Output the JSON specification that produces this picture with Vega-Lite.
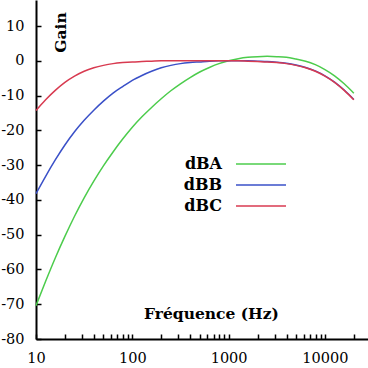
{
  "$schema": "https://vega.github.io/schema/vega-lite/v6.json",
  "width": 332,
  "height": 339,
  "autosize": {"type": "none"},
  "padding": {"left": 36, "top": 0, "right": 0, "bottom": 29},
  "config": {
    "view": {"stroke": null},
    "font": "DejaVu Serif",
    "axis": {
      "grid": false,
      "domainColor": "#000000",
      "domainWidth": 2,
      "tickColor": "#000000",
      "tickWidth": 1.5,
      "tickSize": -5,
      "labelPadding": 17,
      "labelFont": "DejaVu Serif",
      "labelFontSize": 14.5,
      "labelColor": "#000000",
      "titleFont": "DejaVu Serif",
      "titleFontSize": 15.5,
      "titleFontWeight": "bold",
      "titleColor": "#000000"
    }
  },
  "data": {
    "values": [
      {"f": 10, "s": "dBA", "g": -70.4}, {"f": 12.589, "s": "dBA", "g": -63.4}, {"f": 15.849, "s": "dBA", "g": -56.7}, {"f": 19.953, "s": "dBA", "g": -50.5},
      {"f": 25.119, "s": "dBA", "g": -44.7}, {"f": 31.623, "s": "dBA", "g": -39.4}, {"f": 39.811, "s": "dBA", "g": -34.6}, {"f": 50.119, "s": "dBA", "g": -30.2},
      {"f": 63.096, "s": "dBA", "g": -26.2}, {"f": 79.433, "s": "dBA", "g": -22.5}, {"f": 100, "s": "dBA", "g": -19.1}, {"f": 125.89, "s": "dBA", "g": -16.1},
      {"f": 158.49, "s": "dBA", "g": -13.4}, {"f": 199.53, "s": "dBA", "g": -10.9}, {"f": 251.19, "s": "dBA", "g": -8.6}, {"f": 316.23, "s": "dBA", "g": -6.6},
      {"f": 398.11, "s": "dBA", "g": -4.8}, {"f": 501.19, "s": "dBA", "g": -3.2}, {"f": 630.96, "s": "dBA", "g": -1.9}, {"f": 794.33, "s": "dBA", "g": -0.8},
      {"f": 1000, "s": "dBA", "g": 0}, {"f": 1258.9, "s": "dBA", "g": 0.6}, {"f": 1584.9, "s": "dBA", "g": 1.0}, {"f": 1995.3, "s": "dBA", "g": 1.2},
      {"f": 2511.9, "s": "dBA", "g": 1.3}, {"f": 3162.3, "s": "dBA", "g": 1.2}, {"f": 3981.1, "s": "dBA", "g": 1.0}, {"f": 5011.9, "s": "dBA", "g": 0.5},
      {"f": 6309.6, "s": "dBA", "g": -0.1}, {"f": 7943.3, "s": "dBA", "g": -1.1}, {"f": 10000, "s": "dBA", "g": -2.5}, {"f": 12589, "s": "dBA", "g": -4.3},
      {"f": 15849, "s": "dBA", "g": -6.6}, {"f": 19953, "s": "dBA", "g": -9.3},

      {"f": 10, "s": "dBB", "g": -38.2}, {"f": 12.589, "s": "dBB", "g": -33.2}, {"f": 15.849, "s": "dBB", "g": -28.5}, {"f": 19.953, "s": "dBB", "g": -24.2},
      {"f": 25.119, "s": "dBB", "g": -20.4}, {"f": 31.623, "s": "dBB", "g": -17.1}, {"f": 39.811, "s": "dBB", "g": -14.2}, {"f": 50.119, "s": "dBB", "g": -11.6},
      {"f": 63.096, "s": "dBB", "g": -9.3}, {"f": 79.433, "s": "dBB", "g": -7.4}, {"f": 100, "s": "dBB", "g": -5.6}, {"f": 125.89, "s": "dBB", "g": -4.2},
      {"f": 158.49, "s": "dBB", "g": -3.0}, {"f": 199.53, "s": "dBB", "g": -2.0}, {"f": 251.19, "s": "dBB", "g": -1.3}, {"f": 316.23, "s": "dBB", "g": -0.8},
      {"f": 398.11, "s": "dBB", "g": -0.5}, {"f": 501.19, "s": "dBB", "g": -0.3}, {"f": 630.96, "s": "dBB", "g": -0.1}, {"f": 794.33, "s": "dBB", "g": 0},
      {"f": 1000, "s": "dBB", "g": 0}, {"f": 1258.9, "s": "dBB", "g": 0}, {"f": 1584.9, "s": "dBB", "g": 0}, {"f": 1995.3, "s": "dBB", "g": -0.1},
      {"f": 2511.9, "s": "dBB", "g": -0.2}, {"f": 3162.3, "s": "dBB", "g": -0.4}, {"f": 3981.1, "s": "dBB", "g": -0.7}, {"f": 5011.9, "s": "dBB", "g": -1.2},
      {"f": 6309.6, "s": "dBB", "g": -1.9}, {"f": 7943.3, "s": "dBB", "g": -2.9}, {"f": 10000, "s": "dBB", "g": -4.3}, {"f": 12589, "s": "dBB", "g": -6.1},
      {"f": 15849, "s": "dBB", "g": -8.4}, {"f": 19953, "s": "dBB", "g": -11.1},

      {"f": 10, "s": "dBC", "g": -14.3}, {"f": 12.589, "s": "dBC", "g": -11.2}, {"f": 15.849, "s": "dBC", "g": -8.5}, {"f": 19.953, "s": "dBC", "g": -6.2},
      {"f": 25.119, "s": "dBC", "g": -4.4}, {"f": 31.623, "s": "dBC", "g": -3.0}, {"f": 39.811, "s": "dBC", "g": -2.0}, {"f": 50.119, "s": "dBC", "g": -1.3},
      {"f": 63.096, "s": "dBC", "g": -0.8}, {"f": 79.433, "s": "dBC", "g": -0.5}, {"f": 100, "s": "dBC", "g": -0.3}, {"f": 125.89, "s": "dBC", "g": -0.2},
      {"f": 158.49, "s": "dBC", "g": -0.1}, {"f": 199.53, "s": "dBC", "g": 0}, {"f": 251.19, "s": "dBC", "g": 0}, {"f": 316.23, "s": "dBC", "g": 0},
      {"f": 398.11, "s": "dBC", "g": 0}, {"f": 501.19, "s": "dBC", "g": 0}, {"f": 630.96, "s": "dBC", "g": 0}, {"f": 794.33, "s": "dBC", "g": 0},
      {"f": 1000, "s": "dBC", "g": 0}, {"f": 1258.9, "s": "dBC", "g": 0}, {"f": 1584.9, "s": "dBC", "g": -0.1}, {"f": 1995.3, "s": "dBC", "g": -0.2},
      {"f": 2511.9, "s": "dBC", "g": -0.3}, {"f": 3162.3, "s": "dBC", "g": -0.5}, {"f": 3981.1, "s": "dBC", "g": -0.8}, {"f": 5011.9, "s": "dBC", "g": -1.3},
      {"f": 6309.6, "s": "dBC", "g": -2.0}, {"f": 7943.3, "s": "dBC", "g": -3.0}, {"f": 10000, "s": "dBC", "g": -4.4}, {"f": 12589, "s": "dBC", "g": -6.2},
      {"f": 15849, "s": "dBC", "g": -8.5}, {"f": 19953, "s": "dBC", "g": -11.2}
    ]
  },
  "mark": {"type": "line", "interpolate": "monotone", "strokeWidth": 1.5},
  "encoding": {
    "x": {
      "field": "f",
      "type": "quantitative",
      "scale": {"type": "log", "domain": [10, 28000], "nice": false},
      "axis": {
        "title": "Fréquence (Hz)",
        "titleX": 175,
        "titleY": -21,
        "titleAlign": "center",
        "titleBaseline": "alphabetic",
        "values": [10, 20, 30, 40, 50, 60, 70, 80, 90, 100, 200, 300, 400, 500, 600, 700, 800, 900, 1000, 2000, 3000, 4000, 5000, 6000, 7000, 8000, 9000, 10000, 20000],
        "labelExpr": "indexof([10, 100, 1000, 10000], datum.value) >= 0 ? datum.value + '' : ''",
        "labelFlush": false,
        "labelOverlap": false
      }
    },
    "y": {
      "field": "g",
      "type": "quantitative",
      "scale": {"domain": [-80, 17.5], "nice": false, "zero": false},
      "axis": {
        "title": "Gain",
        "titleAngle": -90,
        "titleX": 24,
        "titleY": 32,
        "titleAlign": "center",
        "titleBaseline": "middle",
        "values": [-80, -70, -60, -50, -40, -30, -20, -10, 0, 10],
        "labelExpr": "datum.value + ''",
        "labelOverlap": false,
        "labelFlush": false
      }
    },
    "color": {
      "field": "s",
      "type": "nominal",
      "scale": {"domain": ["dBA", "dBB", "dBC"], "range": ["#4ccc4c", "#3a50c8", "#d83a50"]},
      "legend": {
        "title": null,
        "orient": "none",
        "legendX": 214,
        "legendY": 153,
        "padding": 0,
        "symbolType": "M-2.5,0L2.5,0",
        "symbolSize": 400,
        "symbolStrokeWidth": 1.5,
        "labelFont": "DejaVu Serif",
        "labelFontSize": 16,
        "labelFontWeight": "bold",
        "labelColor": "#000000",
        "labelAlign": "right",
        "labelOffset": -50,
        "rowPadding": 2
      }
    }
  }
}
